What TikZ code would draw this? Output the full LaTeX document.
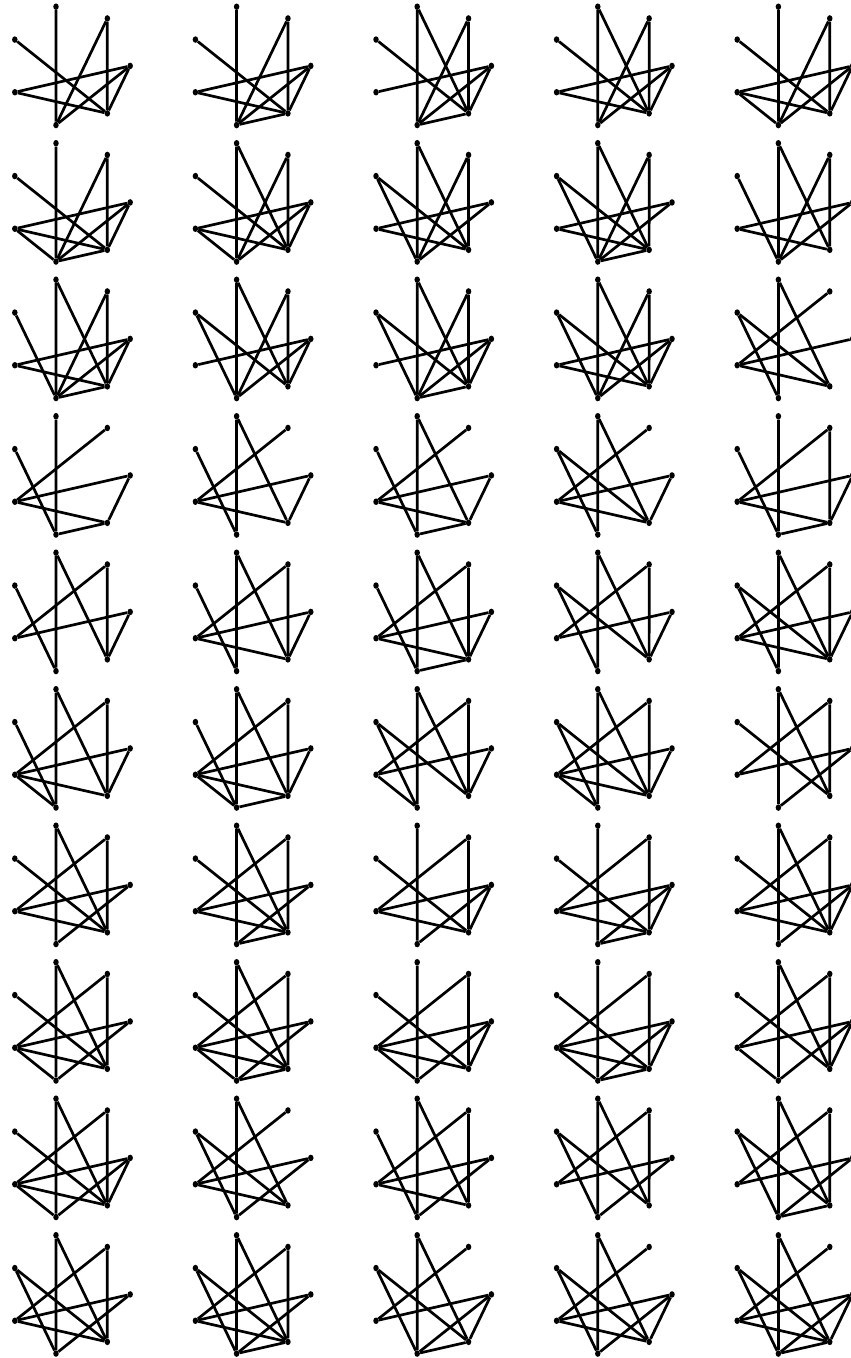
\documentclass[tikz,border=0pt]{standalone}
\usetikzlibrary{shapes.geometric}

\tikzset{
  vtx/.style={ellipse,fill=black,inner sep=0pt,minimum width=5.5pt,minimum height=6.5pt},
  edge/.style={line width=2.7pt,black}
}

% one graph on the 7 points of a heptagon: 0=right, then clockwise
\newcommand{\heptgraph}[3]{%
  \begin{scope}[shift={({69.5+180.6*(#2-1)},{-65.9-136.5*(#1-1)})},name prefix=g#1#2-]
    \foreach \k in {0,...,6}
      \node[vtx] (v\k) at ({-\k*360/7}:60.7) {};
    \foreach \a/\b in {#3}
      \draw[edge] (v\a) -- (v\b);
  \end{scope}}

\begin{document}
\begin{tikzpicture}[x=1pt,y=1pt]
  \useasboundingbox (0,0) rectangle (851,-1358);
  % row 1
  \heptgraph{1}{1}{5/2,6/1,4/1,6/2,3/0,3/1,0/2,0/1}
  \heptgraph{1}{2}{5/2,6/1,4/1,6/2,3/0,3/1,0/2,0/1,2/1}
  \heptgraph{1}{3}{5/2,5/1,6/1,6/2,4/1,3/0,0/2,0/1,2/1}
  \heptgraph{1}{4}{5/2,5/1,6/1,6/2,4/1,3/0,3/1,0/2,0/1}
  \heptgraph{1}{5}{5/2,6/1,6/2,4/1,3/0,3/1,3/2,0/2,0/1}
  % row 2
  \heptgraph{2}{1}{5/2,6/1,6/2,4/1,3/0,3/1,3/2,0/2,0/1,2/1}
  \heptgraph{2}{2}{5/2,5/1,6/1,6/2,4/1,3/0,3/1,3/2,0/2,0/1}
  \heptgraph{2}{3}{5/2,5/1,6/1,6/2,4/1,4/2,3/0,3/1,0/2}
  \heptgraph{2}{4}{5/2,5/1,6/1,6/2,4/1,4/2,3/0,3/1,0/2,2/1}
  \heptgraph{2}{5}{5/2,5/1,6/1,6/2,4/2,3/0,3/1,0/2}
  % row 3
  \heptgraph{3}{1}{5/2,5/1,6/1,6/2,4/2,3/0,3/1,0/2,0/1,2/1}
  \heptgraph{3}{2}{5/2,5/1,6/1,6/2,4/2,4/1,3/0,0/2,0/1}
  \heptgraph{3}{3}{5/2,5/1,6/1,6/2,4/2,4/1,3/0,0/2,0/1,2/1}
  \heptgraph{3}{4}{5/2,5/1,6/1,6/2,4/2,4/1,3/0,3/1,0/2,0/1}
  \heptgraph{3}{5}{5/2,5/1,6/3,4/1,4/2,3/0,3/1}
  % row 4
  \heptgraph{4}{1}{5/2,6/3,4/2,3/0,3/1,0/1,2/1}
  \heptgraph{4}{2}{5/2,5/1,6/3,4/2,3/0,3/1,0/1}
  \heptgraph{4}{3}{5/2,5/1,6/3,4/2,3/0,3/1,0/1,2/1}
  \heptgraph{4}{4}{5/2,5/1,6/3,4/2,4/1,3/0,3/1,0/1}
  \heptgraph{4}{5}{5/2,6/3,6/1,4/2,3/0,3/1,2/1,0/1}
  % row 5
  \heptgraph{5}{1}{5/2,5/1,6/1,6/3,4/2,3/0,0/1}
  \heptgraph{5}{2}{5/2,5/1,6/1,6/3,4/2,3/0,3/1,0/1}
  \heptgraph{5}{3}{5/2,5/1,6/1,6/3,4/2,3/0,3/1,0/1,2/1}
  \heptgraph{5}{4}{5/2,5/1,6/1,6/3,4/2,4/1,3/0,0/1}
  \heptgraph{5}{5}{5/2,5/1,6/1,6/3,4/2,4/1,3/0,3/1,0/1}
  % row 6
  \heptgraph{6}{1}{5/2,5/1,6/1,6/3,4/2,3/0,3/1,3/2,0/1}
  \heptgraph{6}{2}{5/2,5/1,6/1,6/3,4/2,3/0,3/1,3/2,0/1,2/1}
  \heptgraph{6}{3}{5/2,5/1,6/1,6/3,4/2,4/1,3/0,3/2,0/1}
  \heptgraph{6}{4}{5/2,5/1,6/1,6/3,4/2,4/1,3/0,3/1,3/2,0/1}
  \heptgraph{6}{5}{5/2,5/1,6/1,6/3,4/1,3/0,0/2}
  % row 7
  \heptgraph{7}{1}{5/2,5/1,6/1,6/3,4/1,3/0,3/1,0/2}
  \heptgraph{7}{2}{5/2,5/1,6/1,6/3,4/1,3/0,3/1,0/2,2/1}
  \heptgraph{7}{3}{5/2,6/1,6/3,4/1,3/0,3/1,0/2,0/1}
  \heptgraph{7}{4}{5/2,6/1,6/3,4/1,3/0,3/1,0/2,0/1,2/1}
  \heptgraph{7}{5}{5/2,5/1,6/1,6/3,4/1,3/0,3/1,0/2,0/1}
  % row 8
  \heptgraph{8}{1}{5/2,5/1,6/1,6/3,4/1,3/0,3/1,3/2,0/2}
  \heptgraph{8}{2}{5/2,5/1,6/1,6/3,4/1,3/0,3/1,3/2,0/2,2/1}
  \heptgraph{8}{3}{5/2,6/1,6/3,4/1,3/0,3/1,3/2,0/2,0/1}
  \heptgraph{8}{4}{5/2,6/1,6/3,4/1,3/0,3/1,3/2,0/2,0/1,2/1}
  \heptgraph{8}{5}{5/2,5/1,6/1,6/3,4/1,3/0,3/2,0/2,0/1}
  % row 9
  \heptgraph{9}{1}{5/2,5/1,6/1,6/3,4/1,3/0,3/1,3/2,0/2,0/1}
  \heptgraph{9}{2}{5/2,5/1,6/3,4/1,4/2,3/0,3/1,0/2}
  \heptgraph{9}{3}{5/2,5/1,6/1,6/3,4/2,3/0,3/1,0/2}
  \heptgraph{9}{4}{5/2,5/1,6/1,6/3,4/1,4/2,3/0,0/2}
  \heptgraph{9}{5}{5/2,5/1,6/1,6/3,4/1,4/2,3/0,0/2,2/1}
  % row 10
  \heptgraph{10}{1}{5/2,5/1,6/1,6/3,4/1,4/2,3/0,3/1,0/2}
  \heptgraph{10}{2}{5/2,5/1,6/1,6/3,4/1,4/2,3/0,3/1,0/2,2/1}
  \heptgraph{10}{3}{5/2,5/1,6/3,4/1,4/2,3/0,0/2,0/1,2/1}
  \heptgraph{10}{4}{5/2,5/1,6/3,4/1,4/2,3/0,3/1,0/2,0/1}
  \heptgraph{10}{5}{5/2,5/1,6/3,4/1,4/2,3/0,3/1,0/2,0/1,2/1}
\end{tikzpicture}
\end{document}
